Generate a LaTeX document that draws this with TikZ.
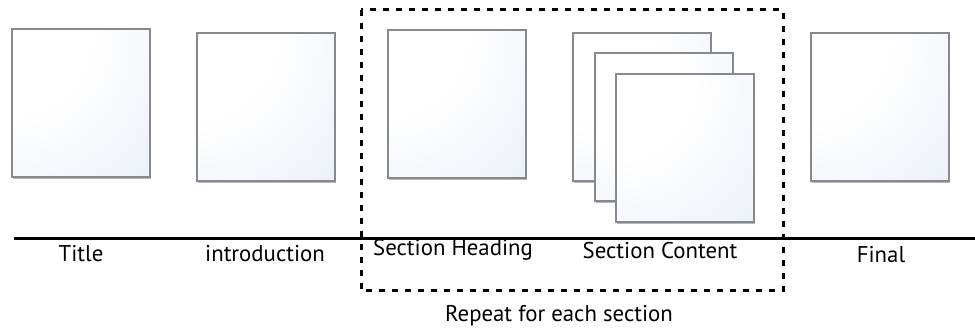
\documentclass[tikz,border=0pt]{standalone}
\usepackage{fontspec}
\setmainfont{PT Sans}
\usetikzlibrary{shadows}
\definecolor{pageblue}{HTML}{DAE4F3}
\definecolor{pageedge}{HTML}{868A90}
\pgfdeclareradialshading{pageshade}{\pgfpoint{-35bp}{35bp}}{%
  color(0bp)=(white); color(30bp)=(white); color(75bp)=(pageblue!80); color(115bp)=(pageblue)}
\tikzset{
  sheet/.style={draw=pageedge, line width=1.3pt, shading=pageshade,
    minimum width=138pt, minimum height=148pt, inner sep=0pt,
    drop shadow={shadow xshift=0.6pt, shadow yshift=-1.8pt, opacity=0.4, fill=black!70}},
  caption/.style={anchor=base, inner sep=0pt, font=\fontsize{22.8}{26}\selectfont},
  rule/.style={line width=3pt},
  group/.style={line width=3pt, dash pattern=on 6pt off 7pt}
}
\begin{document}
\begin{tikzpicture}[x=1pt, y=-1pt]
\useasboundingbox (0,0) rectangle (975,328);
% single pages
\node[sheet] (title)   at (81,103)  {};
\node[sheet] (intro)   at (266,107) {};
\node[sheet] (heading) at (457,104) {};
% stacked content pages
\node[sheet] (contA) at (642,107) {};
\node[sheet] (contB) at (664,127) {};
\node[sheet] (contC) at (685,148) {};
\node[sheet] (final) at (880,107) {};
% baseline rule
\coordinate (ruleL) at (14,239);
\coordinate (ruleR) at (975,239);
\draw[rule] (ruleL) -- (ruleR);
% repeated group frame
\coordinate (grpNW) at (361,10);
\coordinate (grpSE) at (783,291);
\draw[group] (grpNW) rectangle (grpSE);
% captions
\node[caption] (tTitle)   at (81,262)  {Title};
\node[caption] (tIntro)   at (265,262) {introduction};
\node[caption, anchor=base west] (tHeading) at (373,256) {Section Heading};
\node[caption] (tContent) at (660,259) {Section Content};
\node[caption] (tFinal)   at (881,263) {Final};
\node[caption] (tRepeat)  at (559,321.5) {Repeat for each section};
\end{tikzpicture}
\end{document}
